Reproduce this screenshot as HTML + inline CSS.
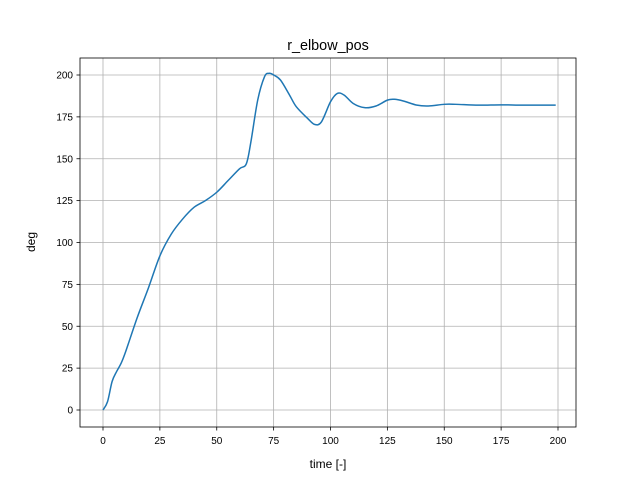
<!DOCTYPE html>
<html><head><meta charset="utf-8"><style>
body{margin:0;background:#fff}
svg text{font-family:"Liberation Sans","DejaVu Sans",sans-serif;fill:#000}
</style></head><body>
<svg id="chart" width="640" height="480" xmlns="http://www.w3.org/2000/svg">
<rect width="640" height="480" fill="#fff"/>
<g id="grid"></g>
<rect x="80" y="58" width="496" height="369" fill="none" stroke="#000" stroke-width="0.8"/>
<g id="ticks"></g>
<path id="line" fill="none" stroke="#1f77b4" stroke-width="1.5"/>
<text x="328" y="50" font-size="14.4" text-anchor="middle">r_elbow_pos</text>
<text x="328" y="468" font-size="12" text-anchor="middle">time [-]</text>
<text x="35" y="242" font-size="12" text-anchor="middle" transform="rotate(-90 35 242)">deg</text>
</svg>
<script>
const times=[0,2,4,6,8,10,15,20,25,30,35,40,45,50,55,60,63,65,68,71,73,75,78,82,85,90,93,96,100,103,106,110,115,120,125,128,132,138,143,150,155,165,175,185,199];
const values=[0,5,17,23,28,35,55,73,92,105,114,121,125,130,137,144,147,160,185,199,201,200,197,188,181,174,170.5,172,184,189,188,183,180.5,181.5,185,185.5,184.5,182,181.5,182.5,182.5,182,182.2,182,182];
const xTicks=[0,25,50,75,100,125,150,175,200];
const yTicks=[0,25,50,75,100,125,150,175,200];
const xs=v=>103+v*2.275, ys=v=>410-v*1.675;
const NS="http://www.w3.org/2000/svg";
const grid=document.getElementById('grid'), ticks=document.getElementById('ticks');
function mk(tag,attrs,parent){const e=document.createElementNS(NS,tag);for(const k in attrs)e.setAttribute(k,attrs[k]);parent.appendChild(e);return e;}
xTicks.forEach(t=>{const x=xs(t);
 const g=mk('line',{x1:x,x2:x,y1:58,y2:427,stroke:'#b0b0b0','stroke-width':0.8},grid);
 
 
 const tk=mk('line',{x1:x,x2:x,y1:427,y2:430.5,stroke:'#000','stroke-width':0.8},ticks);
 
 
 const tx=mk('text',{x:x,y:444,'font-size':10,'text-anchor':'middle'},ticks);tx.textContent=t;
 
 
});
yTicks.forEach(t=>{const y=ys(t);
 const g=mk('line',{x1:80,x2:576,y1:y,y2:y,stroke:'#b0b0b0','stroke-width':0.8},grid);
 
 
 const tk=mk('line',{x1:76.5,x2:80,y1:y,y2:y,stroke:'#000','stroke-width':0.8},ticks);
 
 
 const tx=mk('text',{x:73,y:y+3.5,'font-size':10,'text-anchor':'end'},ticks);tx.textContent=t;
 
 
});
// smooth Catmull-Rom path
const P=times.map((t,i)=>[xs(t),ys(values[i])]);
let d='M'+P[0][0]+','+P[0][1];
for(let i=0;i<P.length-1;i++){const p0=P[Math.max(0,i-1)],p1=P[i],p2=P[i+1],p3=P[Math.min(P.length-1,i+2)];
 const c1=[p1[0]+(p2[0]-p0[0])/6,p1[1]+(p2[1]-p0[1])/6],c2=[p2[0]-(p3[0]-p1[0])/6,p2[1]-(p3[1]-p1[1])/6];
 d+=` C${c1[0]},${c1[1]} ${c2[0]},${c2[1]} ${p2[0]},${p2[1]}`;}
document.getElementById('line').setAttribute('d',d);
</script>
</body></html>
